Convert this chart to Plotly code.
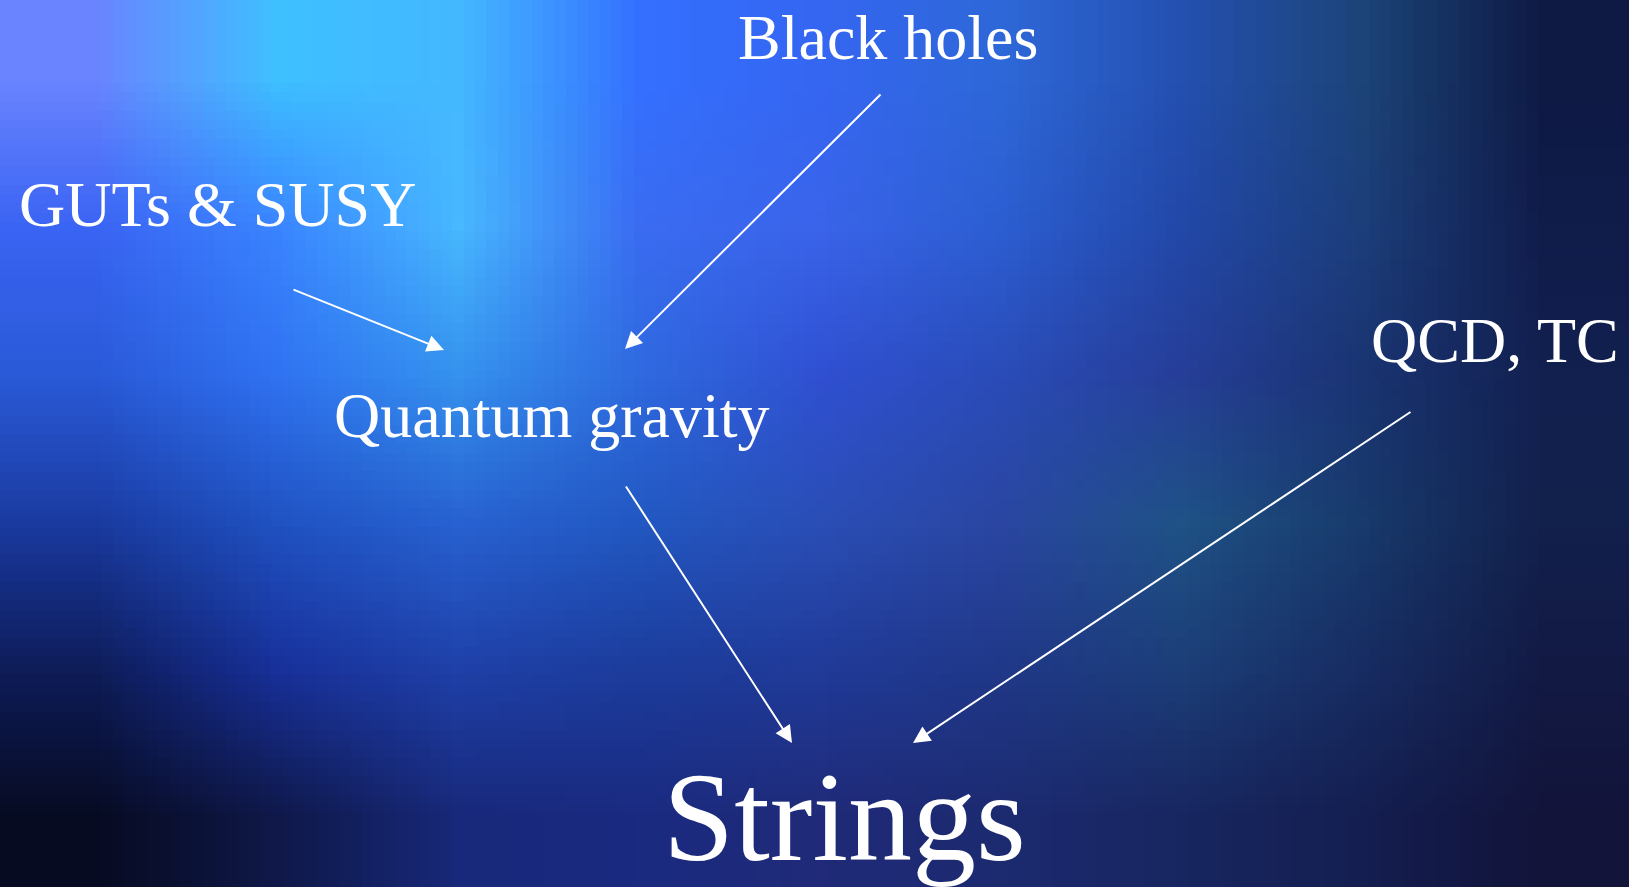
import base64, struct, zlib
import plotly.graph_objects as go

W, H = 1629, 887

# ---- content ----
labels = ["Black holes", "GUTs & SUSY", "Quantum gravity", "QCD, TC", "Strings"]
label_x = [888, 217, 551, 1495, 844]
label_y = [37, 204, 415, 340, 817]
label_size = [64, 64, 64, 64, 128]

arrow_from_x = [292, 882, 625, 1412]
arrow_from_y = [289, 93, 485, 411]
arrow_to_x = [444, 625, 792, 913]
arrow_to_y = [350, 349, 743, 743]

# background colour samples (rows top->bottom, columns left->right)
bg_rows = [
    ["#6a84ff", "#3ec0ff", "#44b8ff", "#3470ff", "#3566f2", "#2e68d8", "#2450b0", "#1c4478", "#0e1a44"],
    ["#3a64f4", "#3a84ff", "#48b8ff", "#3a6cf2", "#3a64ea", "#2c5ed2", "#2248a8", "#1c3e7a", "#101c4a"],
    ["#2a5ad8", "#3072f2", "#3592ee", "#2f6ae0", "#3050d2", "#2a4cb8", "#263e98", "#1a3472", "#122050"],
    ["#1a3aa0", "#2052c2", "#2862d2", "#2258c2", "#2a4eb6", "#2a46a2", "#1f5286", "#183a6c", "#12204c"],
    ["#0e1c58", "#18309a", "#1f40a8", "#1c3c9c", "#203a98", "#203888", "#1c3e78", "#172c62", "#121a44"],
    ["#070b22", "#0f1848", "#18287a", "#1a2a80", "#202a78", "#1c2a70", "#182660", "#141e50", "#12143a"],
]


def hex_rgb(h):
    h = h.lstrip("#")
    return [int(h[i:i + 2], 16) for i in (0, 2, 4)]


def make_png(rows):
    h = len(rows)
    w = len(rows[0])
    raw = b"".join(b"\x00" + bytes(sum((hex_rgb(c) for c in r), [])) for r in rows)

    def chunk(tag, data):
        return (struct.pack(">I", len(data)) + tag + data
                + struct.pack(">I", zlib.crc32(tag + data) & 0xFFFFFFFF))

    png = b"\x89PNG\r\n\x1a\n"
    png += chunk(b"IHDR", struct.pack(">IIBBBBB", w, h, 8, 2, 0, 0, 0))
    png += chunk(b"IDAT", zlib.compress(raw, 9))
    png += chunk(b"IEND", b"")
    return "data:image/png;base64," + base64.b64encode(png).decode()


fig = go.Figure()

# invisible trace to establish axes
fig.add_trace(go.Scatter(x=label_x, y=label_y, mode="markers",
                         marker=dict(opacity=0), hoverinfo="skip", showlegend=False))

for t, x, y, s in zip(labels, label_x, label_y, label_size):
    fig.add_annotation(x=x, y=y, xref="x", yref="y", text=t, showarrow=False,
                       xanchor="center", yanchor="middle",
                       font=dict(family="Liberation Serif, Times New Roman, serif",
                                 size=s, color="white"))

for x0, y0, x1, y1 in zip(arrow_from_x, arrow_from_y, arrow_to_x, arrow_to_y):
    fig.add_annotation(x=x1, y=y1, ax=x0, ay=y0, xref="x", yref="y",
                       axref="x", ayref="y", text="", showarrow=True,
                       arrowhead=2, arrowsize=1.7, arrowwidth=2,
                       arrowcolor="white", standoff=0, startstandoff=0)

fig.add_layout_image(dict(source=make_png(bg_rows), xref="paper", yref="paper",
                          x=0, y=1, sizex=1, sizey=1, sizing="stretch",
                          xanchor="left", yanchor="top", layer="below"))

fig.update_xaxes(range=[0, W], visible=False, fixedrange=True)
fig.update_yaxes(range=[H, 0], visible=False, fixedrange=True)
fig.update_layout(width=W, height=H, margin=dict(l=0, r=0, t=0, b=0),
                  paper_bgcolor="#141c48", plot_bgcolor="rgba(0,0,0,0)",
                  showlegend=False)

fig.write_html("out.html", config={"displayModeBar": False, "responsive": False},
               post_script="document.body.style.margin='0';document.body.style.overflow='hidden';")
